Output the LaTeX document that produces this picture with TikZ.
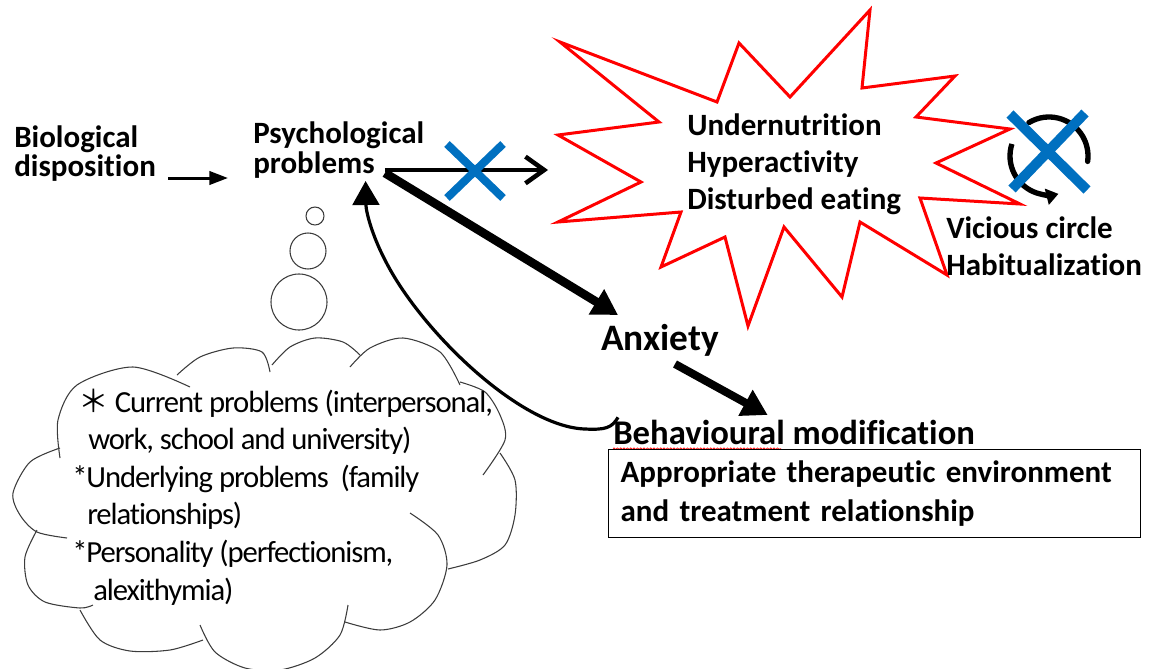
\documentclass[tikz,border=0pt]{standalone}
\usepackage{fontspec}
\setmainfont{Carlito}[Ligatures=NoCommon]
\newfontfamily\cloudfont{Carlito}[Ligatures=NoCommon, LetterSpace=-3.5]
\newfontfamily\cjkfont{Noto Sans CJK JP}
\usetikzlibrary{arrows.meta,positioning,decorations.pathmorphing}
\definecolor{crossblue}{RGB}{0,112,192}
\definecolor{starred}{RGB}{255,0,0}
\definecolor{cloudgray}{RGB}{60,60,60}

\begin{document}
\begin{tikzpicture}[x=0.75pt,y=-0.75pt,
    lbl/.style={font=\fontsize{23.25}{28}\selectfont\bfseries, inner sep=0pt, anchor=base west},
    thought/.style={font=\cloudfont\fontsize{23}{26}\selectfont, inner sep=0pt, anchor=base west},
    cloudline/.style={draw=cloudgray, line width=0.8pt},
    starline/.style={draw=starred, line width=2.25pt},
    crossline/.style={draw=crossblue, line width=6pt},
    thinarr/.style={line width=2.25pt, -{Triangle[length=14pt,width=10pt]}},
    openarr/.style={line width=3.4pt, -{Straight Barb[length=14pt,width=20pt,line width=3.4pt]}},
    bigarr/.style={line width=6.5pt, -{Triangle[length=19pt,width=21pt]}},
    backarr/.style={line width=2.4pt, -{Triangle[length=18pt,width=20pt]}},
    ringline/.style={line width=4pt},
    envbox/.style={draw, line width=1pt, inner xsep=9pt, align=left, anchor=north west,
        minimum width=399pt, minimum height=66pt, text width=381pt,
        font=\fontsize{23.25}{29}\selectfont\bfseries}
  ]
  \useasboundingbox (0,0) rectangle (1153,668);

  % labels on the top row
  \node[lbl] (bio1) at (14,147) {Biological};
  \node[lbl] (bio2) at (14,176) {disposition};
  \node[lbl] (psy1) at (253,143) {Psychological};
  \node[lbl] (psy2) at (253,173) {problems};

  % the starburst
  \draw[starline] (560,42) -- (717,102) -- (739,43) -- (790,97) -- (870,10)
      -- (862,88) -- (955,76) -- (916,117) -- (1010,129) -- (936,163)
      -- (1020,204) -- (920,198) -- (947,275) -- (860,222) -- (842,297)
      -- (784,227) -- (748,326) -- (725,237) -- (661,267) -- (681,212)
      -- (558,222) -- (641,182) -- (558,135) -- (659,122) -- cycle;
  \node[lbl, anchor=north west, align=left] (symp) at (687,113)
      {Undernutrition\\Hyperactivity\\Disturbed eating};

  % vicious circle
  \draw[ringline, line cap=round] (1049,156) ++(-121:39) arc[start angle=-121, end angle=8, radius=39];
  \draw[ringline, -{Triangle[length=9pt,width=12pt]}] (1049,156) ++(-162:39)
      arc[start angle=-162, end angle=-284, radius=39];
  \draw[crossline, line width=7.5pt] (1010,114) -- (1087,190) (1085,113) -- (1012,189);
  \node[lbl] (vic1) at (946,238) {Vicious circle};
  \node[lbl] (vic2) at (946,275) {Habitualization};

  \node[lbl, font=\fontsize{28}{30}\selectfont\bfseries] (anx) at (601,350) {Anxiety};
  \node[lbl, font=\fontsize{26}{30}\selectfont\bfseries] (behav) at (613,444) {Behavioural modification};
  \draw[starred, line width=0.5pt, decorate, decoration={snake, amplitude=0.6pt, segment length=2.5pt}]
      ([yshift=-3.5pt]behav.base west) -- ++(168,0);
  \node[envbox] (env) at (608,449) {Appropriate therapeutic environment\\and treatment relationship};

  % arrows
  \coordinate (starin) at (548,170);
  \coordinate (cut) at (475,171);
  \draw[thinarr] ([xshift=9pt,yshift=-1.5pt]bio2.base east) -- ([xshift=-18.75pt,yshift=-3.75pt]psy2.base west);
  \draw[openarr] ([xshift=7.5pt,yshift=2.25pt]psy2.base east) -- (starin);
  \draw[crossline] ([shift={(-28,-27)}]cut) -- ([shift={(28,27)}]cut)
      ([shift={(28,-27)}]cut) -- ([shift={(-28,27)}]cut);
  \draw[bigarr] ([xshift=7.5pt]psy2.base east) -- ([xshift=12.75pt,yshift=26.25pt]anx.base west);
  \draw[bigarr, line width=6pt] ([xshift=55.5pt,yshift=-10.5pt]anx.base west)
      -- ([xshift=116pt,yshift=21.75pt]behav.base west);
  \draw[backarr] ([xshift=3.75pt,yshift=20pt]behav.base west)
      .. controls (612,428) and (605,430) .. (585,429)
      .. controls (520,427) and (420,330) .. (385,260)
      .. controls (372,235) and (366,212) .. ([xshift=-7pt,yshift=-6pt]psy2.base east);

  % thought bubbles
  \draw[cloudline] (315,216) circle[radius=9];
  \draw[cloudline] (308,251) circle[radius=18];
  \draw[cloudline] (299,302) circle[radius=28];

  % the cloud
  \draw[cloudline] plot[smooth] coordinates {(60,458) (58,420) (77,385) (133,367) (190,387)};
  \draw[cloudline] plot[smooth] coordinates {(177,375) (200,357) (233,348) (262,352) (270,372)};
  \draw[cloudline] plot[smooth] coordinates {(272,365) (290,347) (315,338) (343,342) (360,355)};
  \draw[cloudline] plot[smooth] coordinates {(350,367) (370,348) (403,338) (440,352) (460,385)};
  \draw[cloudline] plot[smooth] coordinates {(460,382) (485,392) (500,415) (505,440) (483,475)};
  \draw[cloudline] plot[smooth] coordinates {(500,453) (515,480) (515,515) (505,545) (480,560) (448,569)};
  \draw[cloudline] plot[smooth] coordinates {(410,513) (438,535) (447,565) (435,600) (410,622) (380,630) (345,622)};
  \draw[cloudline] plot[smooth] coordinates {(348,605) (340,635) (315,658) (280,670) (245,668) (215,652) (200,625)};
  \draw[cloudline] plot[smooth] coordinates {(80,610) (100,640) (130,651) (170,650) (203,640)};
  \draw[cloudline] plot[smooth] coordinates {(37,530) (25,557) (28,585) (45,602) (80,608) (93,605)};
  \draw[cloudline] plot[smooth] coordinates {(60,448) (30,462) (13,493) (20,515) (37,532) (67,538)};

  \node[thought] (c1) at (78,412) {{\cjkfont ＊} Current problems (interpersonal,};
  \node[thought] (c2) at (88,449) {work, school and university)};
  \node[thought] (c3) at (72,487) {*Underlying problems\ \ (family};
  \node[thought] (c4) at (87,524) {relationships)};
  \node[thought] (c5) at (72,562) {*Personality (perfectionism,};
  \node[thought] (c6) at (93,600) {alexithymia)};
\end{tikzpicture}
\end{document}
